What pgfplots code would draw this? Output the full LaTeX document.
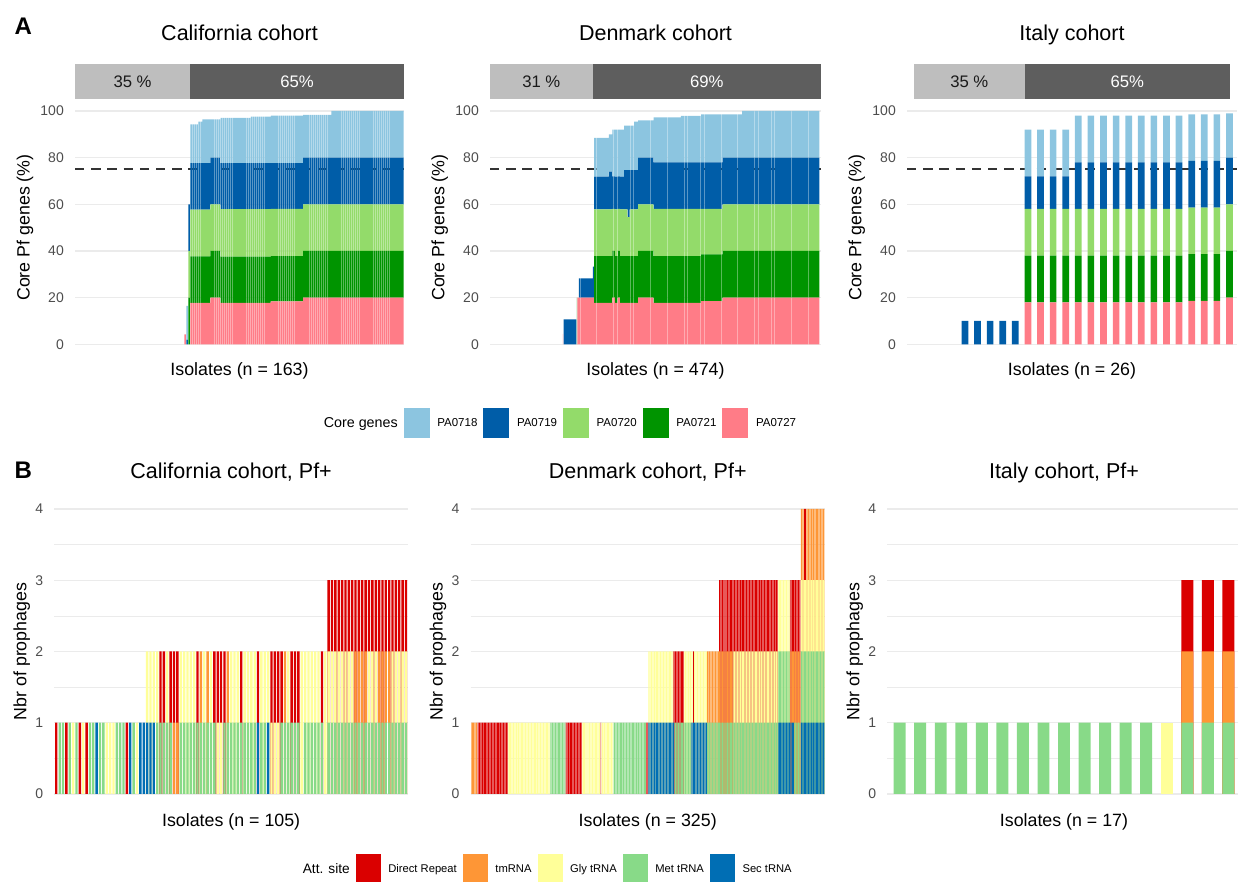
\documentclass[border=0pt]{standalone}
\usepackage{fontspec}
\setmainfont{Liberation Sans}
\usepackage{pgfplots}
\usepackage{pgfplotstable}
\pgfplotsset{compat=1.18}

% core genes
\definecolor{cAa}{HTML}{8CC5E0}% PA0718
\definecolor{cAb}{HTML}{005DA8}% PA0719
\definecolor{cAc}{HTML}{93DB6A}% PA0720
\definecolor{cAd}{HTML}{009400}% PA0721
\definecolor{cAe}{HTML}{FF7C87}% PA0727
% attachment sites
\definecolor{cDR}{HTML}{DA0000}
\definecolor{cTM}{HTML}{FE9636}
\definecolor{cGly}{HTML}{FFFF99}
\definecolor{cMet}{HTML}{88DA88}
\definecolor{cSec}{HTML}{006EB4}
% theme
\definecolor{gridc}{HTML}{EBEBEB}
\definecolor{tickc}{HTML}{4D4D4D}
\definecolor{stripL}{HTML}{BEBEBE}
\definecolor{stripD}{HTML}{5E5E5E}
\definecolor{stripT}{HTML}{1A1A1A}
\definecolor{dashc}{HTML}{333333}

\newcommand{\titlefont}{\fontsize{21.5}{24}\selectfont}
\newcommand{\stripfont}{\fontsize{16.7}{18}\selectfont}

% ---- core gene coverage per isolate (%), California, from isolate 55
\pgfplotstableread{
p27 p21 p20 p19 p18
4.3 0 0 0 0
0 0 0 2 14.5
0 20 20 20 0
17.8 19.9 20 20 16.6
17.8 19.9 20 20 16.6
17.8 19.9 20 20 16.6
17.8 19.9 20 20 16.6
17.8 19.9 20 20 17.7
17.8 19.9 20 20 17.7
17.8 19.9 20 20 18.7
17.8 19.9 20 20 18.7
17.8 19.9 20 20 18.7
17.8 19.9 20 20 18.7
20 20 20 20 16.4
20 20 20 20 16.4
20 20 20 20 16.4
20 20 20 20 16.4
20 20 20 20 16.4
17.8 19.8 20.3 19.8 19.4
17.8 19.8 20.3 19.8 19.4
17.8 19.8 20.3 19.8 19.4
17.8 19.8 20.3 19.8 19.4
17.8 19.8 20.3 19.8 19.4
17.8 19.8 20.3 19.8 19.4
17.8 19.8 20.3 19.8 19.4
17.8 19.8 20.3 19.8 19.4
17.8 19.8 20.3 19.8 19.4
17.8 19.8 20.3 19.8 19.4
17.8 19.8 20.3 19.8 19.4
17.8 19.8 20.3 19.8 19.4
17.8 19.8 20.3 19.8 19.4
17.8 19.8 20.3 19.8 19.4
17.8 19.8 20.3 19.8 19.4
17.8 19.8 20.3 19.8 19.9
17.8 19.8 20.3 19.8 19.9
17.8 19.8 20.3 19.8 19.9
17.8 19.8 20.3 19.8 19.9
17.8 19.8 20.3 19.8 19.9
17.8 19.8 20.3 19.8 19.9
17.8 19.8 20.3 19.8 19.9
17.8 19.8 20.3 19.8 19.9
17.8 19.8 20.3 19.8 19.9
17.8 19.8 20.3 19.8 19.9
18.4 19.4 20.2 19.7 20.3
18.4 19.4 20.2 19.7 20.3
18.4 19.4 20.2 19.7 20.3
18.4 19.4 20.2 19.7 20.3
18.4 19.4 20.2 19.7 20.3
18.4 19.4 20.2 19.7 20.3
18.4 19.4 20.2 19.7 20.3
18.4 19.4 20.2 19.7 20.3
18.4 19.4 20.2 19.7 20.3
18.4 19.4 20.2 19.7 20.3
18.4 19.4 20.2 19.7 20.3
18.4 19.4 20.2 19.7 20.3
18.4 19.4 20.2 19.7 20.3
18.4 19.4 20.2 19.7 20.3
18.4 19.4 20.2 19.7 20.3
18.4 19.4 20.2 19.7 20.3
20 20 20 20 18.3
20 20 20 20 18.3
20 20 20 20 18.3
20 20 20 20 18.3
20 20 20 20 18.3
20 20 20 20 18.3
20 20 20 20 18.3
20 20 20 20 18.3
20 20 20 20 18.3
20 20 20 20 18.3
20 20 20 20 18.3
20 20 20 20 18.3
20 20 20 20 18.3
20 20 20 20 18.3
20 20 20 20 20
20 20 20 20 20
20 20 20 20 20
20 20 20 20 20
20 20 20 20 20
20 20 20 20 20
20 20 20 20 20
20 20 20 20 20
20 20 20 20 20
20 20 20 20 20
20 20 20 20 20
20 20 20 20 20
20 20 20 20 20
20 20 20 20 20
20 20 20 20 20
20 20 20 20 20
20 20 20 20 20
20 20 20 20 20
20 20 20 20 20
20 20 20 20 20
20 20 20 20 20
20 20 20 20 20
20 20 20 20 20
20 20 20 20 20
20 20 20 20 20
20 20 20 20 20
20 20 20 20 20
20 20 20 20 20
20 20 20 20 20
20 20 20 20 20
20 20 20 20 20
20 20 20 20 20
20 20 20 20 20
20 20 20 20 20
20 20 20 20 20
20 20 20 20 20
}\calA

% ---- Denmark, from isolate 105
\pgfplotstableread{
p27 p21 p20 p19 p18
4.5 0 0 0 0
0 0 0 10.7 0
0 0 0 10.7 0
0 0 0 10.7 0
0 0 0 10.7 0
0 0 0 10.7 0
0 0 0 10.7 0
0 0 0 10.7 0
0 0 0 10.7 0
0 0 0 10.7 0
0 0 0 10.7 0
0 0 0 10.7 0
0 0 0 10.7 0
0 0 0 10.7 0
0 0 0 10.7 0
0 0 0 10.7 0
0 0 0 10.7 0
0 0 0 10.7 0
0 0 0 10.7 0
0 0 0 10.7 0
0 20 0 0 0
20 0 0 0 0
20 0 0 0 0
20 0 0 8.3 0
20 0 0 8.3 0
20 0 0 8.3 0
20 0 0 8.3 0
20 0 0 8.3 0
20 0 0 8.3 0
20 0 0 8.3 0
20 0 0 8.3 0
20 0 0 8.3 0
20 0 0 8.3 0
20 0 0 8.3 0
20 0 0 8.3 0
20 0 0 8.3 0
20 0 0 8.3 0
20 0 0 8.3 0
20 0 0 8.3 0
20 0 0 8.3 0
20 0 0 8.3 0
20 0 0 8.3 0
20 0 0 8.3 0
20 0 0 13.3 0
20 0 0 13.3 0
17.8 20 20 14.1 16.6
17.8 20 20 14.1 16.6
17.8 20 20 14.1 16.6
17.8 20 20 14.1 16.6
17.8 20 20 14.1 16.6
17.8 20 20 14.1 16.6
17.8 20 20 14.1 16.6
17.8 20 20 14.1 16.6
17.8 20 20 14.1 16.6
17.8 20 20 14.1 16.6
17.8 20 20 14.1 16.6
17.8 20 20 14.1 16.6
17.8 20 20 14.1 16.6
17.8 20 20 14.1 16.6
17.8 20 20 14.1 16.6
17.8 20 20 14.1 16.6
17.8 20 20 14.1 16.6
17.8 20 20 14.1 16.6
17.8 20 20 14.1 16.6
17.8 20 20 14.1 16.6
17.8 20 20 14.1 16.6
17.8 20 20 16.2 16
17.8 20 20 16.2 16
17.8 20 20 16.2 16
17.8 20 20 16.2 16
17.8 20 20 16.2 16
20 20 18 14 20
20 20 18 14 20
20 20 18 14 20
20 20 18 14 20
17.8 20 20 14.1 20.1
17.8 20 20 14.1 20.1
17.8 20 20 14.1 20.1
17.8 20 20 14.1 20.1
20 20 18 14 20
20 20 18 14 20
20 20 18 14 20
17.8 20 20 14.1 20.1
17.8 20 20 14.1 20.1
17.8 20 20 14.1 20.1
17.8 20 20 14.1 20.1
17.8 20 20 14.1 20.1
17.8 20 20 14.1 20.1
17.8 20 20 16.9 19
17.8 20 20 16.9 19
17.8 20 20 16.9 19
17.8 20 20 16.9 19
17.8 20 20 16.9 19
17.8 20 16.7 20.2 19
17.8 20 16.7 20.2 19
17.8 20 16.7 20.2 19
17.8 20 20 16.9 19
17.8 20 20 16.9 19
17.8 20 20 16.9 19
17.8 20 20 16.9 19
17.8 20 20 16.9 19
17.8 20 20 16.9 19
17.8 20 20 16.9 20.7
17.8 20 20 16.9 20.7
17.8 20 20 16.9 20.7
17.8 20 20 16.9 20.7
17.8 20 20 16.9 20.7
17.8 20 20 16.9 20.7
20 20 20 20 16
20 20 20 20 16
20 20 20 20 16
20 20 20 20 16
20 20 20 20 16
20 20 20 20 16
20 20 20 20 16
20 20 20 20 16
20 20 20 20 16
20 20 20 20 16
20 20 20 20 16
20 20 20 20 16
20 20 20 20 16
20 20 20 20 16
20 20 20 20 16
20 20 20 20 16
20 20 20 20 16
20 20 20 20 16
20 20 20 20 16
20 20 20 20 16
20 20 20 20 16
20 20 20 20 16
17.8 20 20.2 20 19.3
17.8 20 20.2 20 19.3
17.8 20 20.2 20 19.3
17.8 20 20.2 20 19.3
17.8 20 20.2 20 19.3
17.8 20 20.2 20 19.3
17.8 20 20.2 20 19.3
17.8 20 20.2 20 19.3
17.8 20 20.2 20 19.3
17.8 20 20.2 20 19.3
17.8 20 20.2 20 19.3
17.8 20 20.2 20 19.3
17.8 20 20.2 20 19.3
17.8 20 20.2 20 19.3
17.8 20 20.2 20 19.3
17.8 20 20.2 20 19.3
17.8 20 20.2 20 19.3
17.8 20 20.2 20 19.3
17.8 20 20.2 20 19.3
17.8 20 20.2 20 19.3
17.8 20 20.2 20 19.3
17.8 20 20.2 20 19.3
17.8 20 20.2 20 19.3
17.8 20 20.2 20 19.3
17.8 20 20.2 20 19.3
17.8 20 20.2 20 19.3
17.8 20 20.2 20 19.3
17.8 20 20.2 20 19.3
17.8 20 20.2 20 19.3
17.8 20 20.2 20 19.3
17.8 20 20.2 20 19.3
17.8 20 20.2 20 19.3
17.8 20 20.2 20 19.3
17.8 20 20.2 20 19.3
17.8 20 20.2 20 19.3
17.8 20 20.2 20 19.3
17.8 20 20.2 20 19.3
17.8 20 20.2 20 19.3
17.8 20 20.2 20 19.3
17.8 20 20.2 20 19.9
17.8 20 20.2 20 19.9
17.8 20 20.2 20 19.9
17.8 20 20.2 20 19.9
17.8 20 20.2 20 19.9
17.8 20 20.2 20 19.9
17.8 20 20.2 20 19.9
17.8 20 20.2 20 19.9
17.8 20 20.2 20 19.9
17.8 20 20.2 20 19.9
17.8 20 20.2 20 19.9
17.8 20 20.2 20 19.9
17.8 20 20.2 20 19.9
17.8 20 20.2 20 19.9
17.8 20 20.2 20 19.9
17.8 20 20.2 20 19.9
17.8 20 20.2 20 19.9
17.8 20 20.2 20 19.9
17.8 20 20.2 20 19.9
17.8 20 20.2 20 19.9
17.8 20 20.2 20 19.9
17.8 20 20.2 20 19.9
17.8 20 20.2 20 19.9
17.8 20 20.2 20 19.9
17.8 20 20.2 20 19.9
17.8 20 20.2 20 19.9
17.8 20 20.2 20 19.9
17.8 20 20.2 20 19.9
17.8 20 20.2 20 19.9
18.5 20 19.5 20 20.6
18.5 20 19.5 20 20.6
18.5 20 19.5 20 20.6
18.5 20 19.5 20 20.6
18.5 20 19.5 20 20.6
18.5 20 19.5 20 20.6
18.5 20 19.5 20 20.6
18.5 20 19.5 20 20.6
18.5 20 19.5 20 20.6
18.5 20 19.5 20 20.6
18.5 20 19.5 20 20.6
18.5 20 19.5 20 20.6
18.5 20 19.5 20 20.6
18.5 20 19.5 20 20.6
18.5 20 19.5 20 20.6
18.5 20 19.5 20 20.6
18.5 20 19.5 20 20.6
18.5 20 19.5 20 20.6
18.5 20 19.5 20 20.6
18.5 20 19.5 20 20.6
18.5 20 19.5 20 20.6
18.5 20 19.5 20 20.6
18.5 20 19.5 20 20.6
18.5 20 19.5 20 20.6
18.5 20 19.5 20 20.6
18.5 20 19.5 20 20.6
18.5 20 19.5 20 20.6
18.5 20 19.5 20 20.6
18.5 20 19.5 20 20.6
18.5 20 19.5 20 20.6
18.5 20 19.5 20 20.6
20 20 20 20 18.6
20 20 20 20 18.6
20 20 20 20 18.6
20 20 20 20 18.6
20 20 20 20 18.6
20 20 20 20 18.6
20 20 20 20 18.6
20 20 20 20 18.6
20 20 20 20 18.6
20 20 20 20 18.6
20 20 20 20 18.6
20 20 20 20 18.6
20 20 20 20 18.6
20 20 20 20 18.6
20 20 20 20 18.6
20 20 20 20 18.6
20 20 20 20 18.6
20 20 20 20 18.6
20 20 20 20 18.6
20 20 20 20 18.6
20 20 20 20 18.6
20 20 20 20 18.6
20 20 20 20 18.6
20 20 20 20 18.6
20 20 20 20 18.6
20 20 20 20 18.6
20 20 20 20 18.6
20 20 20 20 18.6
20 20 20 20 20
20 20 20 20 20
20 20 20 20 20
20 20 20 20 20
20 20 20 20 20
20 20 20 20 20
20 20 20 20 20
20 20 20 20 20
20 20 20 20 20
20 20 20 20 20
20 20 20 20 20
20 20 20 20 20
20 20 20 20 20
20 20 20 20 20
20 20 20 20 20
20 20 20 20 20
20 20 20 20 20
20 20 20 20 20
20 20 20 20 20
20 20 20 20 20
20 20 20 20 20
20 20 20 20 20
20 20 20 20 20
20 20 20 20 20
20 20 20 20 20
20 20 20 20 20
20 20 20 20 20
20 20 20 20 20
20 20 20 20 20
20 20 20 20 20
20 20 20 20 20
20 20 20 20 20
20 20 20 20 20
20 20 20 20 20
20 20 20 20 20
20 20 20 20 20
20 20 20 20 20
20 20 20 20 20
20 20 20 20 20
20 20 20 20 20
20 20 20 20 20
20 20 20 20 20
20 20 20 20 20
20 20 20 20 20
20 20 20 20 20
20 20 20 20 20
20 20 20 20 20
20 20 20 20 20
20 20 20 20 20
20 20 20 20 20
20 20 20 20 20
20 20 20 20 20
20 20 20 20 20
20 20 20 20 20
20 20 20 20 20
20 20 20 20 20
20 20 20 20 20
20 20 20 20 20
20 20 20 20 20
20 20 20 20 20
20 20 20 20 20
20 20 20 20 20
20 20 20 20 20
20 20 20 20 20
20 20 20 20 20
20 20 20 20 20
20 20 20 20 20
20 20 20 20 20
20 20 20 20 20
20 20 20 20 20
20 20 20 20 20
20 20 20 20 20
20 20 20 20 20
20 20 20 20 20
20 20 20 20 20
20 20 20 20 20
20 20 20 20 20
20 20 20 20 20
20 20 20 20 20
20 20 20 20 20
20 20 20 20 20
20 20 20 20 20
20 20 20 20 20
20 20 20 20 20
20 20 20 20 20
20 20 20 20 20
20 20 20 20 20
20 20 20 20 20
20 20 20 20 20
20 20 20 20 20
20 20 20 20 20
20 20 20 20 20
20 20 20 20 20
20 20 20 20 20
20 20 20 20 20
20 20 20 20 20
20 20 20 20 20
20 20 20 20 20
20 20 20 20 20
20 20 20 20 20
20 20 20 20 20
20 20 20 20 20
20 20 20 20 20
20 20 20 20 20
20 20 20 20 20
20 20 20 20 20
20 20 20 20 20
20 20 20 20 20
20 20 20 20 20
20 20 20 20 20
20 20 20 20 20
}\denA

% ---- Italy, from isolate 5
\pgfplotstableread{
p27 p21 p20 p19 p18
0 0 0 10 0
0 0 0 10 0
0 0 0 10 0
0 0 0 10 0
0 0 0 10 0
18 20 20 14 20
18 20 20 14 20
18 20 20 14 20
18 20 20 14 20
18 20 20 20 20
18 20 20 20 20
18 20 20 20 20
18 20 20 20 20
18 20 20 20 20
18 20 20 20 20
18 20 20 20 20
18 20 20 20 20
18 20 20 20 20
18.6 20 20 20 20
18.6 20 20 20 20
18.6 20 20 20 20
20 20 20 20 19
}\itaA

% ---- attachment site of each prophage, stacked per Pf+ isolate
% 1 Direct Repeat, 2 tmRNA, 3 Gly tRNA, 4 Met tRNA, 5 Sec tRNA, 0 none
\pgfplotstableread{
l1 l2 l3
1 0 0
4 0 0
4 0 0
1 0 0
4 0 0
3 0 0
4 0 0
1 0 0
3 0 0
1 0 0
4 0 0
4 0 0
5 0 0
4 0 0
4 0 0
3 0 0
3 0 0
3 0 0
4 0 0
4 0 0
4 0 0
1 0 0
5 0 0
4 0 0
3 0 0
5 0 0
5 0 0
5 3 0
5 3 0
5 3 0
4 3 0
4 1 0
4 1 0
4 3 0
4 1 0
2 1 0
2 1 0
4 3 0
4 3 0
4 3 0
4 3 0
4 3 0
4 1 0
4 2 0
4 3 0
4 2 0
4 3 0
4 1 0
3 1 0
3 1 0
4 1 0
4 2 0
4 3 0
4 3 0
4 3 0
4 1 0
4 3 0
4 3 0
4 3 0
4 3 0
5 1 0
4 3 0
4 3 0
5 3 0
3 1 0
3 1 0
3 1 0
4 1 0
4 2 0
4 3 0
4 1 0
4 1 0
4 1 0
3 3 0
4 3 0
4 3 0
4 3 0
4 3 0
4 3 0
4 1 0
3 3 0
4 3 1
4 3 1
4 3 1
4 3 1
4 3 1
4 3 1
4 3 1
4 3 1
4 2 1
4 2 1
4 2 1
4 2 1
4 3 1
4 3 1
4 3 1
4 2 1
4 2 1
4 2 1
4 2 1
4 3 1
4 3 1
4 3 1
4 3 1
4 3 1
}\calB

\pgfplotstableread{
l1 l2 l3 l4
2 0 0 0
2 0 0 0
2 0 0 0
2 0 0 0
2 0 0 0
2 0 0 0
1 0 0 0
1 0 0 0
1 0 0 0
1 0 0 0
1 0 0 0
1 0 0 0
1 0 0 0
1 0 0 0
1 0 0 0
1 0 0 0
1 0 0 0
1 0 0 0
1 0 0 0
1 0 0 0
1 0 0 0
1 0 0 0
1 0 0 0
1 0 0 0
1 0 0 0
1 0 0 0
1 0 0 0
1 0 0 0
1 0 0 0
1 0 0 0
1 0 0 0
1 0 0 0
1 0 0 0
1 0 0 0
3 0 0 0
3 0 0 0
3 0 0 0
3 0 0 0
3 0 0 0
3 0 0 0
3 0 0 0
3 0 0 0
3 0 0 0
3 0 0 0
3 0 0 0
3 0 0 0
3 0 0 0
3 0 0 0
3 0 0 0
3 0 0 0
3 0 0 0
3 0 0 0
3 0 0 0
3 0 0 0
3 0 0 0
3 0 0 0
3 0 0 0
3 0 0 0
3 0 0 0
3 0 0 0
3 0 0 0
3 0 0 0
3 0 0 0
3 0 0 0
3 0 0 0
3 0 0 0
3 0 0 0
3 0 0 0
3 0 0 0
3 0 0 0
3 0 0 0
3 0 0 0
3 0 0 0
4 0 0 0
4 0 0 0
4 0 0 0
4 0 0 0
4 0 0 0
4 0 0 0
4 0 0 0
4 0 0 0
4 0 0 0
4 0 0 0
4 0 0 0
4 0 0 0
4 0 0 0
4 0 0 0
1 0 0 0
1 0 0 0
1 0 0 0
1 0 0 0
1 0 0 0
1 0 0 0
1 0 0 0
1 0 0 0
1 0 0 0
1 0 0 0
1 0 0 0
1 0 0 0
1 0 0 0
1 0 0 0
1 0 0 0
3 0 0 0
3 0 0 0
3 0 0 0
3 0 0 0
3 0 0 0
3 0 0 0
3 0 0 0
3 0 0 0
3 0 0 0
3 0 0 0
3 0 0 0
3 0 0 0
3 0 0 0
3 0 0 0
3 0 0 0
3 0 0 0
3 0 0 0
1 0 0 0
3 0 0 0
3 0 0 0
3 0 0 0
3 0 0 0
3 0 0 0
3 0 0 0
3 0 0 0
3 0 0 0
3 0 0 0
3 0 0 0
3 0 0 0
4 0 0 0
4 0 0 0
4 0 0 0
4 0 0 0
4 0 0 0
4 0 0 0
4 0 0 0
4 0 0 0
4 0 0 0
4 0 0 0
4 0 0 0
4 0 0 0
4 0 0 0
4 0 0 0
4 0 0 0
4 0 0 0
4 0 0 0
4 0 0 0
4 0 0 0
4 0 0 0
4 0 0 0
4 0 0 0
4 0 0 0
4 0 0 0
4 0 0 0
4 0 0 0
4 0 0 0
4 0 0 0
4 0 0 0
4 0 0 0
1 0 0 0
1 0 0 0
5 3 0 0
5 3 0 0
5 3 0 0
5 3 0 0
5 3 0 0
5 3 0 0
5 3 0 0
5 3 0 0
5 3 0 0
5 3 0 0
5 3 0 0
5 3 0 0
5 3 0 0
5 3 0 0
5 3 0 0
5 3 0 0
5 3 0 0
5 3 0 0
5 3 0 0
5 3 0 0
5 3 0 0
5 3 0 0
5 3 0 0
5 1 0 0
4 1 0 0
4 1 0 0
4 1 0 0
4 1 0 0
4 1 0 0
4 1 0 0
4 1 0 0
4 1 0 0
4 1 0 0
4 3 0 0
4 3 0 0
4 3 0 0
4 3 0 0
4 3 0 0
4 3 0 0
5 3 0 0
5 3 0 0
5 1 0 0
5 3 0 0
5 3 0 0
5 3 0 0
5 3 0 0
5 3 0 0
5 3 0 0
5 3 0 0
5 3 0 0
5 3 0 0
5 3 0 0
5 3 0 0
5 3 0 0
4 2 0 0
4 2 0 0
4 2 0 0
4 2 0 0
4 2 0 0
4 2 0 0
4 2 0 0
4 2 0 0
4 2 0 0
4 2 0 0
4 2 0 0
4 2 1 0
4 2 1 0
4 2 1 0
4 2 1 0
4 2 1 0
4 2 1 0
4 2 1 0
4 2 1 0
4 2 1 0
4 2 1 0
4 2 1 0
4 2 1 0
4 2 1 0
4 3 1 0
4 3 1 0
4 3 1 0
4 3 1 0
4 3 1 0
4 3 1 0
4 3 1 0
4 3 1 0
4 3 1 0
4 3 1 0
4 3 1 0
4 3 1 0
4 3 1 0
4 3 1 0
4 3 1 0
4 3 1 0
4 3 1 0
4 3 1 0
4 3 1 0
4 3 1 0
4 3 1 0
4 3 1 0
4 3 1 0
4 3 1 0
4 3 1 0
4 3 1 0
4 3 1 0
4 3 1 0
4 3 1 0
4 3 1 0
4 3 1 0
4 3 1 0
4 3 1 0
4 3 1 0
4 3 1 0
4 3 1 0
4 3 1 0
4 3 1 0
4 3 1 0
4 3 1 0
4 3 1 0
5 4 3 0
5 4 3 0
5 4 3 0
5 4 3 0
5 4 3 0
5 4 3 0
5 4 3 0
5 4 3 0
5 4 3 0
5 4 3 0
5 4 3 0
5 2 1 0
5 2 1 0
5 2 1 0
5 2 1 0
4 2 1 0
4 2 1 0
4 2 1 0
4 2 1 0
4 2 1 0
4 2 1 0
5 4 3 2
5 4 3 2
5 4 3 2
5 4 3 1
5 4 3 1
5 4 3 2
5 4 3 2
5 4 3 2
5 4 3 2
5 4 3 2
5 4 3 2
5 4 3 2
5 4 3 2
5 4 3 2
5 4 3 2
5 4 3 2
5 4 3 2
5 4 3 2
5 4 3 2
5 4 3 2
5 4 3 2
5 4 3 2
}\denB

\pgfplotstableread{
l1 l2 l3
4 0 0
4 0 0
4 0 0
4 0 0
4 0 0
4 0 0
4 0 0
4 0 0
4 0 0
4 0 0
4 0 0
4 0 0
4 0 0
3 0 0
4 2 1
4 2 1
4 2 1
}\itaB

% stacked core-gene bars; #2 is the index of the first isolate in the table
\newcommand{\coreBars}[2]{%
  \addplot[fill=cAe, draw=none] table[x expr=\coordindex+#2, y=p27]{#1};
  \addplot[fill=cAd, draw=none] table[x expr=\coordindex+#2, y=p21]{#1};
  \addplot[fill=cAc, draw=none] table[x expr=\coordindex+#2, y=p20]{#1};
  \addplot[fill=cAb, draw=none] table[x expr=\coordindex+#2, y=p19]{#1};
  \addplot[fill=cAa, draw=none] table[x expr=\coordindex+#2, y=p18]{#1};
}
% 75 % threshold
\newcommand{\cutoff}[2]{%
  \addplot[sharp plot, stack plots=false, color=dashc, line width=2.1pt,
    dash pattern=on 9.3pt off 6.9pt] coordinates {(#1,75) (#2,75)};
}
% one prophage layer (#2) of every isolate, coloured by its site; bar width #3
\newcommand{\siteLayer}[3]{%
  \addplot[ybar, bar shift=0pt, bar width=#3, fill=cDR, draw=none] table[x expr=\coordindex+1, y expr=#2, restrict expr to domain={\thisrow{l#2}}{1:1}]{#1};
  \addplot[ybar, bar shift=0pt, bar width=#3, fill=cTM, draw=none] table[x expr=\coordindex+1, y expr=#2, restrict expr to domain={\thisrow{l#2}}{2:2}]{#1};
  \addplot[ybar, bar shift=0pt, bar width=#3, fill=cGly, draw=none] table[x expr=\coordindex+1, y expr=#2, restrict expr to domain={\thisrow{l#2}}{3:3}]{#1};
  \addplot[ybar, bar shift=0pt, bar width=#3, fill=cMet, draw=none] table[x expr=\coordindex+1, y expr=#2, restrict expr to domain={\thisrow{l#2}}{4:4}]{#1};
  \addplot[ybar, bar shift=0pt, bar width=#3, fill=cSec, draw=none] table[x expr=\coordindex+1, y expr=#2, restrict expr to domain={\thisrow{l#2}}{5:5}]{#1};
}

\pgfplotsset{
  panel/.style={
    scale only axis, anchor=south west, clip=false,
    axis line style={draw=none}, major tick style={draw=none}, minor tick style={draw=none},
    xtick=\empty,
    ymajorgrids, major grid style={gridc, line width=1.1pt},
    /pgf/number format/assume math mode=true,
    yticklabel style={font=\fontsize{14}{14}\selectfont, text=tickc, anchor=east, inner sep=0pt, xshift=-11pt},
    xlabel style={font=\fontsize{17.8}{20}\selectfont, anchor=center},
    ylabel style={font=\fontsize{17.8}{20}\selectfont, anchor=center},
  },
  panelA/.style={panel, width=#1, height=233.3pt, ymin=0, ymax=100,
    ytick={0,20,40,60,80,100}, ybar stacked,
    ylabel={Core Pf genes (\%)},
    ylabel style={at={(axis description cs:-0.152,0.5)}},
    xlabel style={at={(axis description cs:0.5,-0.1144)}},
  },
  panelB/.style={panel, width=#1, height=285pt, ymin=0, ymax=4,
    ytick={0,1,2,3,4}, minor ytick={0.5,1.5,2.5,3.5},
    yminorgrids, minor grid style={gridc, line width=0.6pt},
    ylabel={Nbr of prophages},
    ylabel style={at={(axis description cs:-0.092,0.5)}},
    xlabel style={at={(axis description cs:0.5,-0.097)}},
    title style={at={(0.5,1)}, anchor=base, yshift=24.7pt, font=\titlefont},
  },
  stripax/.style={scale only axis, anchor=south west, width=#1, height=35.3pt, clip=false,
    hide axis, xmin=0, xmax=100, ymin=-0.5, ymax=0.5, xbar stacked, bar width=1},
  legax/.style={scale only axis, anchor=south west, width=1pt, height=1pt, hide axis,
    xmin=0, xmax=1, ymin=0, ymax=1, legend columns=6,
    legend style={draw=none, fill=none, at={(0,0.5)}, anchor=west, inner sep=0pt,
      font=\fontsize{11.5}{12}\selectfont, nodes={inner sep=0pt},
      /tikz/every even column/.append style={column sep=6pt},
      /tikz/every odd column/.append style={column sep=7.6pt}},
  },
}

\begin{document}
\begin{tikzpicture}
\useasboundingbox (0pt,0pt) rectangle (1238pt,882pt);

\node[anchor=base west, font=\bfseries\fontsize{24}{24}\selectfont] at (11pt,847pt) {A};
\node[anchor=base west, font=\bfseries\fontsize{24}{24}\selectfont] at (11pt,403pt) {B};

% ---------- row A: strips with Pf- / Pf+ shares
\begin{axis}[stripax=329pt, at={(75pt,782.7pt)}]
  \addplot[fill=stripL, draw=none] coordinates {(35,0)};
  \addplot[fill=stripD, draw=none] coordinates {(65,0)};
  \coordinate (caNeg) at (axis cs:17.5,0);
  \coordinate (caPos) at (axis cs:67.5,0);
  \node[anchor=base, yshift=23.3pt, font=\titlefont] at (rel axis cs:0.5,1) {California cohort};
\end{axis}
\node[text=stripT, font=\stripfont] at (caNeg) {35 \%};
\node[text=white, font=\stripfont] at (caPos) {65\%};

\begin{axis}[stripax=331pt, at={(490pt,782.7pt)}]
  \addplot[fill=stripL, draw=none] coordinates {(31,0)};
  \addplot[fill=stripD, draw=none] coordinates {(69,0)};
  \coordinate (dkNeg) at (axis cs:15.5,0);
  \coordinate (dkPos) at (axis cs:65.5,0);
  \node[anchor=base, yshift=23.3pt, font=\titlefont] at (rel axis cs:0.5,1) {Denmark cohort};
\end{axis}
\node[text=stripT, font=\stripfont] at (dkNeg) {31 \%};
\node[text=white, font=\stripfont] at (dkPos) {69\%};

\begin{axis}[stripax=316pt, at={(914pt,782.7pt)}]
  \addplot[fill=stripL, draw=none] coordinates {(35,0)};
  \addplot[fill=stripD, draw=none] coordinates {(65,0)};
  \coordinate (itNeg) at (axis cs:17.5,0);
  \coordinate (itPos) at (axis cs:67.5,0);
  \node[anchor=base, yshift=23.3pt, font=\titlefont] at (rel axis cs:0.5,1) {Italy cohort};
\end{axis}
\node[text=stripT, font=\stripfont] at (itNeg) {35 \%};
\node[text=white, font=\stripfont] at (itPos) {65\%};

% ---------- row A: core genes per isolate
\begin{axis}[panelA=329pt, at={(75pt,537.7pt)}, xmin=0.4, xmax=163.6, bar width=0.8,
  xlabel={Isolates (n = 163)}]
  \coreBars{\calA}{55}
  \cutoff{0.4}{163.6}
\end{axis}
\begin{axis}[panelA=331pt, at={(490pt,537.7pt)}, xmin=0.4, xmax=474.6, bar width=0.62,
  xlabel={Isolates (n = 474)}]
  \coreBars{\denA}{105}
  \cutoff{0.4}{474.6}
\end{axis}
\begin{axis}[panelA=330pt, at={(907pt,537.7pt)}, xmin=0.4, xmax=26.6, bar width=0.53,
  xlabel={Isolates (n = 26)}]
  \coreBars{\itaA}{5}
  \cutoff{0.4}{26.6}
\end{axis}

% ---------- legend: core genes
\begin{axis}[legax, at={(316pt,458.5pt)},
  legend image code/.code={\fill[#1] (0pt,-15pt) rectangle (26pt,15pt);}]
  \addlegendimage{empty legend}\addlegendentry{\fontsize{14.3}{15}\selectfont Core genes}
  \addlegendimage{fill=cAa, draw=none}\addlegendentry{PA0718}
  \addlegendimage{fill=cAb, draw=none}\addlegendentry{PA0719}
  \addlegendimage{fill=cAc, draw=none}\addlegendentry{PA0720}
  \addlegendimage{fill=cAd, draw=none}\addlegendentry{PA0721}
  \addlegendimage{fill=cAe, draw=none}\addlegendentry{PA0727}
\end{axis}

% ---------- row B: prophages per Pf+ isolate
\begin{axis}[panelB=353.7pt, at={(54.3pt,88pt)}, xmin=0.4, xmax=105.6,
  title={California cohort, Pf+}, xlabel={Isolates (n = 105)}]
  \siteLayer{\calB}{3}{0.7}
  \siteLayer{\calB}{2}{0.7}
  \siteLayer{\calB}{1}{0.7}
\end{axis}
\begin{axis}[panelB=354pt, at={(470.7pt,88pt)}, xmin=0.4, xmax=325.6,
  title={Denmark cohort, Pf+}, xlabel={Isolates (n = 325)}]
  \siteLayer{\denB}{4}{0.62}
  \siteLayer{\denB}{3}{0.62}
  \siteLayer{\denB}{2}{0.62}
  \siteLayer{\denB}{1}{0.62}
\end{axis}
\begin{axis}[panelB=353.4pt, at={(887.3pt,88pt)}, xmin=0.4, xmax=17.6,
  title={Italy cohort, Pf+}, xlabel={Isolates (n = 17)}]
  \siteLayer{\itaB}{3}{0.58}
  \siteLayer{\itaB}{2}{0.58}
  \siteLayer{\itaB}{1}{0.58}
\end{axis}

% ---------- legend: attachment sites
\begin{axis}[legax, at={(295pt,12.5pt)},
  legend style={font=\fontsize{11.2}{12}\selectfont},
  legend image code/.code={\fill[#1] (0pt,-15pt) rectangle (25pt,15pt);}]
  \addlegendimage{empty legend}\addlegendentry{\fontsize{13.7}{15}\selectfont Att. site}
  \addlegendimage{fill=cDR, draw=none}\addlegendentry{Direct Repeat}
  \addlegendimage{fill=cTM, draw=none}\addlegendentry{tmRNA}
  \addlegendimage{fill=cGly, draw=none}\addlegendentry{Gly tRNA}
  \addlegendimage{fill=cMet, draw=none}\addlegendentry{Met tRNA}
  \addlegendimage{fill=cSec, draw=none}\addlegendentry{Sec tRNA}
\end{axis}
\end{tikzpicture}
\end{document}
